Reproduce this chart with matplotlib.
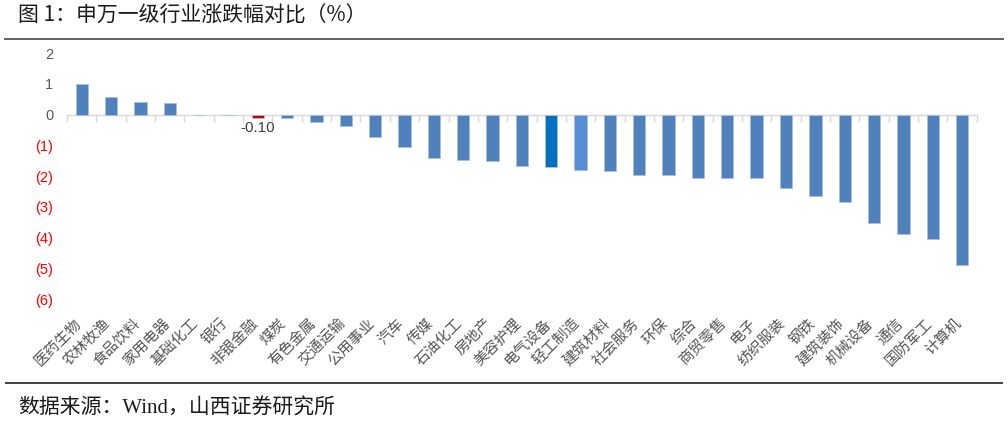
import matplotlib
matplotlib.use('Agg')
import matplotlib.pyplot as plt
import matplotlib.transforms as mtransforms
from matplotlib.lines import Line2D
import numpy as np

plt.rcParams['font.family'] = ['Noto Sans CJK SC', 'DejaVu Sans']

industries = ['医药生物', '农林牧渔', '食品饮料', '家用电器', '基础化工', '银行', '非银金融',
              '煤炭', '有色金属', '交通运输', '公用事业', '汽车', '传媒', '石油化工', '房地产',
              '美容护理', '电气设备', '轻工制造', '建筑材料', '社会服务', '环保', '综合',
              '商贸零售', '电子', '纺织服装', '钢铁', '建筑装饰', '机械设备', '通信',
              '国防军工', '计算机']
changes = [0.98, 0.56, 0.40, 0.38, -0.02, -0.03, -0.10, -0.11, -0.24, -0.38, -0.73,
           -1.05, -1.41, -1.48, -1.50, -1.66, -1.72, -1.82, -1.84, -1.98, -1.98, -2.06,
           -2.06, -2.08, -2.39, -2.66, -2.84, -3.52, -3.90, -4.04, -4.91]
yticks = [2, 1, 0, -1, -2, -3, -4, -5, -6]
highlight = {'非银金融': '#C00000', '电气设备': '#0070C0', '轻工制造': '#558ED5'}

fig = plt.figure(figsize=(10.08, 4.23), dpi=100)
ax = fig.add_axes([0.0665, 0.2931, 0.9025, 0.5816])

x = np.arange(len(industries))
colors = [highlight.get(name, '#4F81BD') for name in industries]
ax.bar(x, changes, width=0.42, color=colors, edgecolor='#A9C1DF', linewidth=0.6, zorder=3)

ax.set_xlim(-0.5, len(industries) - 0.5)
ax.set_ylim(-6, 2)

# value label for the highlighted bar
k = industries.index('非银金融')
ax.text(x[k], changes[k] - 0.12, '-0.10', ha='center', va='top', fontsize=11,
        color='#404040', family=['Liberation Sans'])

# axis line at zero with ticks between categories
for s in ['left', 'right', 'top']:
    ax.spines[s].set_visible(False)
ax.spines['bottom'].set_position(('data', 0))
ax.spines['bottom'].set_color('#D9D9D9')
ax.spines['bottom'].set_linewidth(1.0)
ax.spines['bottom'].set_zorder(2)
ax.set_xticks(np.arange(len(industries) + 1) - 0.5)
ax.set_xticklabels([])
ax.tick_params(axis='x', length=5, width=1, color='#D9D9D9', direction='out')

# category labels at the bottom of the plot area
trans = mtransforms.blended_transform_factory(ax.transData, ax.transAxes)
for i, name in enumerate(industries):
    ax.text(i - 0.26, -0.07, name, transform=trans, rotation=45, ha='right', va='top',
            rotation_mode='anchor', fontsize=10.7, color='#555555')

# y ticks: positive grey, negative red in brackets
ax.set_yticks(yticks)
ylabels = [str(v) if v >= 0 else '(%d)' % -v for v in yticks]
ax.set_yticklabels(ylabels, fontsize=10.5, family=['Liberation Sans'])
ax.tick_params(axis='y', length=0, pad=10)
for lab, v in zip(ax.get_yticklabels(), yticks):
    lab.set_color('#595959' if v >= 0 else '#FF0000')

# title, rules and source
fig.text(0.018, 0.962, '图 1：申万一级行业涨跌幅对比（%）', fontsize=15, ha='left', va='center',
         color='#1a1a1a')
fig.add_artist(Line2D([0.005, 0.995], [1 - 39.5 / 423] * 2, color='#606060', lw=1.4,
                      transform=fig.transFigure))
fig.add_artist(Line2D([0.006, 0.994], [1 - 382.5 / 423] * 2, color='#404040', lw=1.4,
                      transform=fig.transFigure))
fig.text(0.018, 1 - 409 / 423, '数据来源：Wind，山西证券研究所', fontsize=15, ha='left',
         va='center', color='#1a1a1a', family=['Liberation Serif', 'Noto Sans CJK SC'])

fig.savefig('out.png', dpi=100)
